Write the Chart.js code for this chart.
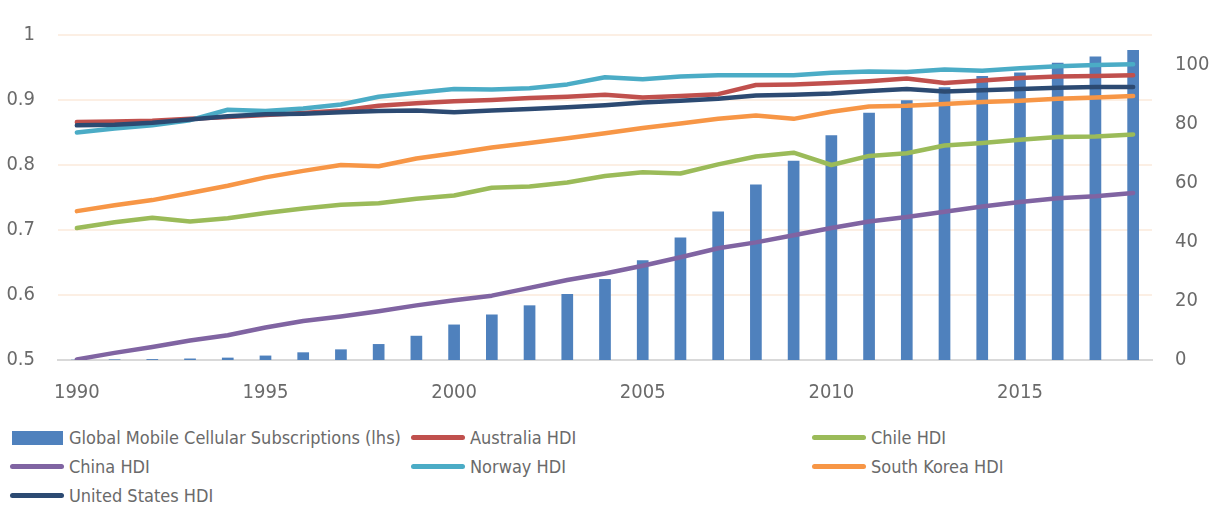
<!DOCTYPE html>
<html>
<head>
<meta charset="utf-8">
<script src="https://cdn.jsdelivr.net/npm/chart.js@4/dist/chart.umd.min.js"></script>
<style>
	body { margin: 0; background: #fff; }
	#wrap { position: relative; width: 1209px; height: 410px; }
	#legend
	{
		position: absolute; left: 10px; top: 423px;
		display: grid; grid-template-columns: 401px 401px 401px;
		font-family: 'DejaVu Sans Condensed', 'DejaVu Sans', sans-serif;
		font-stretch: condensed;
		font-size: 18px; color: #6a6a6a;
	}
	#legend .item { display: flex; align-items: center; height: 29px; white-space: nowrap; }
	#legend .mark { flex: none; margin-right: 5px; }
</style>
</head>
<body>
<div id="wrap"><canvas id="chart"></canvas></div>
<div id="legend"></div>
<script>
var years = [];
for (var y = 1990; y <= 2018; y++) years.push(y);

var xTickYears = [1990, 1995, 2000, 2005, 2010, 2015];
var hdiTicks = [0.5, 0.6, 0.7, 0.8, 0.9, 1];
var subsTicks = [0, 20, 40, 60, 80, 100];

var subscriptions = [0.1, 0.2, 0.3, 0.5, 0.8, 1.5, 2.6, 3.6, 5.4, 8.2, 12.0, 15.4, 18.5, 22.3, 27.4, 33.8, 41.5, 50.3, 59.4, 67.4, 76.1, 83.7, 87.9, 92.3, 96.1, 97.3, 100.6, 102.7, 104.9];
var australia = [0.866, 0.867, 0.868, 0.871, 0.874, 0.877, 0.880, 0.884, 0.891, 0.895, 0.898, 0.900, 0.903, 0.905, 0.908, 0.904, 0.906, 0.909, 0.923, 0.924, 0.926, 0.929, 0.933, 0.926, 0.930, 0.934, 0.936, 0.937, 0.938];
var chile = [0.703, 0.712, 0.719, 0.713, 0.718, 0.726, 0.733, 0.739, 0.741, 0.748, 0.753, 0.765, 0.767, 0.773, 0.783, 0.789, 0.787, 0.801, 0.813, 0.819, 0.800, 0.814, 0.818, 0.830, 0.834, 0.839, 0.843, 0.844, 0.847];
var china = [0.501, 0.511, 0.520, 0.530, 0.538, 0.550, 0.560, 0.567, 0.575, 0.584, 0.592, 0.599, 0.611, 0.623, 0.633, 0.645, 0.658, 0.672, 0.681, 0.692, 0.703, 0.713, 0.720, 0.728, 0.736, 0.743, 0.749, 0.752, 0.757];
var norway = [0.850, 0.856, 0.861, 0.869, 0.885, 0.883, 0.887, 0.893, 0.905, 0.911, 0.917, 0.916, 0.918, 0.924, 0.935, 0.932, 0.936, 0.938, 0.938, 0.938, 0.942, 0.944, 0.943, 0.947, 0.945, 0.949, 0.952, 0.954, 0.955];
var southKorea = [0.729, 0.738, 0.746, 0.757, 0.768, 0.781, 0.791, 0.800, 0.798, 0.810, 0.818, 0.827, 0.834, 0.841, 0.849, 0.857, 0.864, 0.871, 0.876, 0.871, 0.882, 0.890, 0.891, 0.894, 0.897, 0.899, 0.902, 0.904, 0.906];
var unitedStates = [0.861, 0.862, 0.865, 0.870, 0.875, 0.878, 0.879, 0.881, 0.883, 0.884, 0.881, 0.884, 0.886, 0.889, 0.892, 0.896, 0.899, 0.902, 0.907, 0.908, 0.910, 0.914, 0.917, 0.913, 0.915, 0.917, 0.919, 0.920, 0.920];

var FONT = "'DejaVu Sans Condensed', 'DejaVu Sans', sans-serif";
var TEXT = '#6a6a6a';

function line(label, data, color, order)
{
	return {
		type: 'line', label: label, data: data, yAxisID: 'hdi', order: order
	,	borderColor: color, backgroundColor: color, borderWidth: 4.5
	,	borderCapStyle: 'round', borderJoinStyle: 'round'
	,	pointRadius: 0, tension: 0
	};
}

var chart = new Chart(document.getElementById('chart'), {
	data:
	{
		labels: years
	,	datasets:
		[
			{
				type: 'bar', label: 'Global Mobile Cellular Subscriptions (lhs)', data: subscriptions
			,	yAxisID: 'subs', order: 10, backgroundColor: '#4f81bd'
			,	barPercentage: 0.31, categoryPercentage: 1
			}
		,	line('Australia HDI', australia, '#c0504d', 6)
		,	line('Chile HDI', chile, '#9bbb59', 5)
		,	line('China HDI', china, '#8064a2', 4)
		,	line('Norway HDI', norway, '#4bacc6', 3)
		,	line('South Korea HDI', southKorea, '#f79646', 2)
		,	line('United States HDI', unitedStates, '#2c4a72', 1)
		]
	}
,	options:
	{
		responsive: true, maintainAspectRatio: false, animation: false
	,	layout: { padding: { top: 16, left: 0, right: 0, bottom: 0 } }
	,	plugins: { legend: { display: false }, tooltip: { enabled: false } }
	,	scales:
		{
			x:
			{
				grid: { display: false, drawTicks: false }
			,	border: { display: true, color: '#d9d9d9', width: 2 }
			,	ticks:
				{
					autoSkip: false, maxRotation: 0, padding: 21
				,	color: TEXT, font: { family: FONT, size: 20 }
				,	callback: function(v, i) { return xTickYears.indexOf(years[i]) >= 0 ? String(years[i]) : ''; }
				}
			,	afterFit: function(s) { s.height = 50; }
			}
		,	hdi:
			{
				position: 'left', min: hdiTicks[0], max: hdiTicks[hdiTicks.length - 1]
			,	afterBuildTicks: function(s) { s.ticks = hdiTicks.map(function(v) { return { value: v }; }); }
			,	grid: { color: function(c) { return c.tick.value === 0.5 ? 'rgba(0,0,0,0)' : '#fcefe4'; }, lineWidth: 2, drawTicks: false }
			,	border: { display: false }
			,	ticks:
				{
					padding: 23, color: TEXT, font: { family: FONT, size: 20 }
				,	callback: function(v) { return String(+v.toFixed(1)); }
				}
			,	afterFit: function(s) { s.width = 58; }
			}
		,	subs:
			{
				position: 'right', min: 0, max: 110
			,	afterBuildTicks: function(s) { s.ticks = subsTicks.map(function(v) { return { value: v }; }); }
			,	grid: { display: false, drawTicks: false }
			,	border: { display: false }
			,	ticks: { padding: 23, color: TEXT, font: { family: FONT, size: 20 } }
			,	afterFit: function(s) { s.width = 57; }
			}
		}
	}
});

// legend laid out in three fixed columns like the source
var legend = document.getElementById('legend');
chart.data.datasets.forEach(function(ds)
{
	var item = document.createElement('div');
	item.className = 'item';
	var mark = document.createElement('span');
	mark.className = 'mark';
	if (ds.type === 'bar')
	{
		mark.style.cssText = 'width:51px;height:14px;margin-left:2px;margin-right:6px;background:' + ds.backgroundColor;
	}
	else
	{
		mark.style.cssText = 'width:54px;height:5px;border-radius:3px;background:' + ds.borderColor;
	}
	item.appendChild(mark);
	var txt = document.createElement('span');
	txt.textContent = ds.label;
	item.appendChild(txt);
	legend.appendChild(item);
});
</script>
</body>
</html>
